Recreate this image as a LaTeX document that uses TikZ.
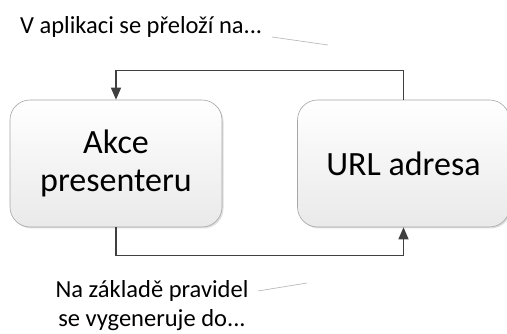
\documentclass[tikz,border=0pt]{standalone}
\usepackage{fontspec}
\setmainfont{Carlito}
\usetikzlibrary{arrows.meta,shadows}

\tikzset{
  stepbox/.style={draw=gray!70, line width=0.6pt, rounded corners=20pt,
    top color=white, bottom color=gray!17,
    drop shadow={opacity=0.25, shadow xshift=1.5pt, shadow yshift=-1.5pt},
    minimum width=212pt, minimum height=127pt, align=center,
    font=\fontsize{34}{38}\selectfont},
  conn/.style={draw=black!75, line width=1.4pt,
    -{Triangle[length=12pt,width=10pt]}},
  note/.style={inner sep=0pt, align=center, font=\fontsize{24.5}{29}\selectfont},
  pointer/.style={draw=gray!55, line width=0.7pt}
}

\begin{document}
\begin{tikzpicture}[x=1pt,y=-1pt]
\useasboundingbox (0,0) rectangle (507,334);

% Define the two boxes
\node[stepbox] (akce) at (116,163.5) {Akce\\presenteru};
\node[stepbox] (url) at (403.5,163.5) {URL adresa};

% Construct upper connector
\draw[conn] (url.north) -- ++(0,-29) -| (akce.north);

% Construct lower connector
\draw[conn] (akce.south) -- ++(0,28) -| (url.south);

% Upper label with its pointer
\node[note,anchor=west] (preklad) at (20,27) {V aplikaci se přeloží na...};
\coordinate (p1) at (272,37);
\coordinate (p2) at (328,45);
\draw[pointer] (p1) -- (p2);

% Lower label with its pointer
\node[note] (pravidla) at (152,306) {Na základě pravidel\\se vygeneruje do...};
\coordinate (q1) at (258,291);
\coordinate (q2) at (307,283);
\draw[pointer] (q1) -- (q2);
\end{tikzpicture}
\end{document}
